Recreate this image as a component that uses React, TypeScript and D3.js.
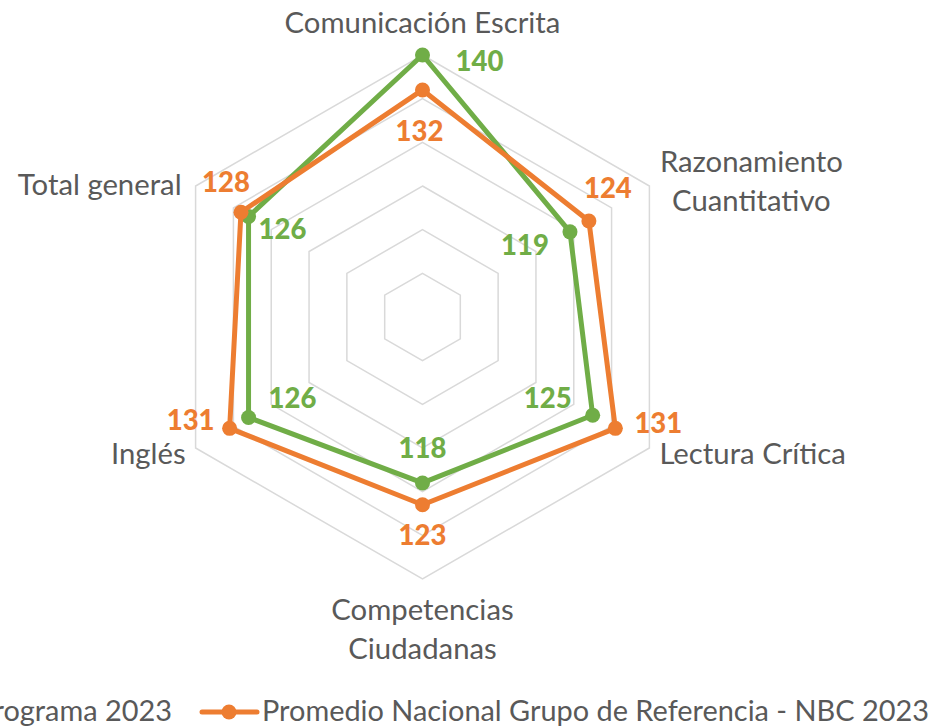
import React from 'react';
import * as d3 from 'd3';

const categories = ['Comunicación Escrita', 'Razonamiento Cuantitativo', 'Lectura Crítica', 'Competencias Ciudadanas', 'Inglés', 'Total general'];
const categoryLines = [['Comunicación Escrita'], ['Razonamiento', 'Cuantitativo'], ['Lectura Crítica'], ['Competencias', 'Ciudadanas'], ['Inglés'], ['Total general']];
const programa2023 = [140, 119, 125, 118, 126, 126];
const nacional2023 = [132, 124, 131, 123, 131, 128];
const ringTicks = [90, 100, 110, 120, 130, 140];
const seriesNames = ['Promedio Programa 2023', 'Promedio Nacional Grupo de Referencia - NBC 2023'];

// layout
const W = 939, H = 726;
const cx = 422.5, cy = 317;
const R = 262;
const GREEN = '#70AD47';
const ORANGE = '#ED7D31';
const TEXT = '#595959';
const FONT = 'Lato, "Open Sans", sans-serif';
const LABEL_SIZE = 29.3;
const LEGEND_SIZE = 28.9;

const greenLabelOff = [[57, 6], [-45, 13], [-45, -17], [0, -35], [44, -19], [34, 13]];
const orangeLabelOff = [[-3, 41], [19, -33], [43, -5], [0, 30], [-39, -8], [-15, -30]];
// category label layout: [dx, dy of first baseline relative to outer vertex, anchor]
const catLayout: [number, number, string][] = [
  [0, -22, 'middle'],
  [102, -14, 'middle'],
  [10, 16, 'start'],
  [0, 41, 'middle'],
  [-10, 16, 'end'],
  [-14, 9, 'end'],
];

export default function App() {
  const r = d3.scaleLinear().domain([80, 140]).range([0, R]);
  const angle = d3.scaleLinear().domain([0, categories.length]).range([0, 2 * Math.PI]);
  const pt = (i: number, v: number): [number, number] => {
    const a = angle(i);
    return [cx + r(v) * Math.sin(a), cy - r(v) * Math.cos(a)];
  };
  const closedLine = d3.line<[number, number]>().curve(d3.curveLinearClosed);
  const idx = d3.range(categories.length);

  const series = [
    { name: seriesNames[0], values: programa2023, color: GREEN, off: greenLabelOff },
    { name: seriesNames[1], values: nacional2023, color: ORANGE, off: orangeLabelOff },
  ];

  return (
    <svg width={W} height={H} style={{ position: 'absolute', left: 0, top: 0, background: '#fff' }} fontFamily={FONT}>
      <rect width={W} height={H} fill="#fff" />
      {ringTicks.map((t) => (
        <path key={t} d={closedLine(idx.map((i) => pt(i, t))) || ''} fill="none" stroke="#D9D9D9" strokeWidth={1.5} />
      ))}
      {categoryLines.map((lines, i) => {
        const [vx, vy] = pt(i, 140);
        const [dx, dy, anchor] = catLayout[i];
        return (
          <text key={i} x={vx + dx} y={vy + dy} textAnchor={anchor as any} fill={TEXT} fontSize={LABEL_SIZE}>
            {lines.map((l, j) => (
              <tspan key={j} x={vx + dx} dy={j === 0 ? 0 : 39}>{l}</tspan>
            ))}
          </text>
        );
      })}
      {series.map((s) => (
        <g key={s.name}>
          <path d={closedLine(s.values.map((v, i) => pt(i, v))) || ''} fill="none" stroke={s.color} strokeWidth={5} strokeLinejoin="round" />
          {s.values.map((v, i) => {
            const [x, y] = pt(i, v);
            return <circle key={i} cx={x} cy={y} r={7.5} fill={s.color} />;
          })}
        </g>
      ))}
      {series.map((s) => (
        <g key={s.name + 'lab'}>
          {s.values.map((v, i) => {
            const [x, y] = pt(i, v);
            return (
              <text key={i} x={x + s.off[i][0]} y={y + s.off[i][1]} dy="0.36em" textAnchor="middle" fill={s.color} fontWeight={900} fontSize={27.5}>
                {v}
              </text>
            );
          })}
        </g>
      ))}
      {/* legend */}
      <g>
        <line x1={-90} x2={-35} y1={712} y2={712} stroke={GREEN} strokeWidth={5} />
        <circle cx={-62} cy={712} r={7.5} fill={GREEN} />
        <text x={172} y={721} textAnchor="end" fill={TEXT} fontSize={LEGEND_SIZE}>{seriesNames[0]}</text>
        <line x1={202} x2={257} y1={712} y2={712} stroke={ORANGE} strokeWidth={5} strokeLinecap="round" />
        <circle cx={229} cy={712} r={7.5} fill={ORANGE} />
        <text x={262} y={721} fill={TEXT} fontSize={LEGEND_SIZE}>{seriesNames[1]}</text>
      </g>
    </svg>
  );
}
